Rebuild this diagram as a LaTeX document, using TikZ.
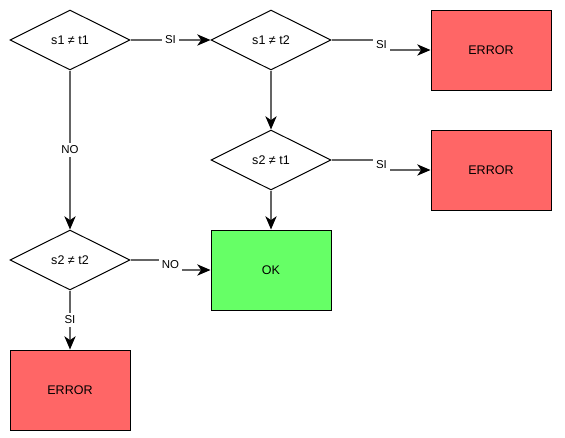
\documentclass[tikz,border=0pt]{standalone}
\usepackage{fontspec}
\setmainfont{Liberation Sans}
\usetikzlibrary{shapes.geometric,arrows.meta}
\definecolor{errred}{RGB}{255,102,102}
\definecolor{okgreen}{RGB}{102,255,102}
\definecolor{edgegray}{RGB}{100,100,100}
\begin{document}
\begin{tikzpicture}[x=0.75pt, y=-0.75pt,
    check/.style={draw, diamond, aspect=2, inner sep=0pt, minimum width=90pt, minimum height=45pt, line width=0.75pt, font=\fontsize{9.4}{10}\selectfont},
    errbox/.style={draw, fill=errred, minimum width=90pt, minimum height=60pt, line width=0.75pt, font=\fontsize{9.4}{10}\selectfont},
    okbox/.style={draw, fill=okgreen, minimum width=90pt, minimum height=60pt, line width=0.75pt, font=\fontsize{9.4}{10}\selectfont},
    edge/.style={draw=edgegray, line width=0.8pt, -{Stealth[length=10pt, width=8.5pt, inset=3pt, fill=black, color=black]}},
    lbl/.style={fill=white, inner sep=2pt, font=\fontsize{8.6}{9}\selectfont}]

      \useasboundingbox (0,0) rectangle (565,437);

      % Checks
      \foreach \n/\x/\y/\t in {1/70/40/{s1 ≠ t1}, 2/271/40/{s1 ≠ t2}, 3/271/160/{s2 ≠ t1}, 4/70/260/{s2 ≠ t2}}
        \node[check] (D-\n) at (\x,\y) {\t};

      % Results
      \foreach \n/\x/\y in {1/491/50, 2/491/170, 3/70/390}
        \node[errbox] (E-\n) at (\x,\y) {ERROR};
      \node[okbox] (OK) at (271,270) {OK};

      % Connecting
      \draw[edge] (D-1) -- node[lbl] {SI} (D-2);
      \draw[edge] (D-1) -- node[lbl] {NO} (D-4);
      \draw[edge] (D-2) -- (D-3);
      \draw[edge] (D-3) -- (OK);
      \draw[edge] (D-4) -- node[lbl] {SI} (E-3);

      \draw[edge] (D-2.east) -- ++(50,0) -- node[lbl] {SI} ++(0,10) -- (E-1.west);
      \draw[edge] (D-3.east) -- ++(50,0) -- node[lbl] {SI} ++(0,10) -- (E-2.west);
      \draw[edge] (D-4.east) -- ++(40,0) -- node[lbl] {NO} ++(0,10) -- (OK.west);

  \end{tikzpicture}
\end{document}
